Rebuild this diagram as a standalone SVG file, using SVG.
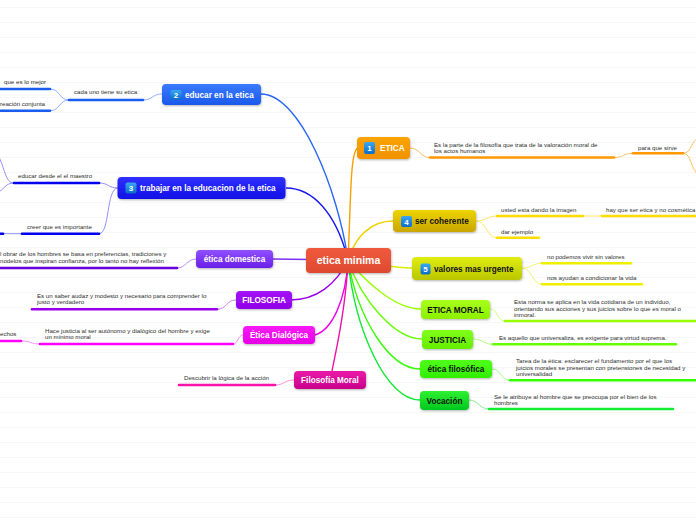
<svg xmlns="http://www.w3.org/2000/svg" width="696" height="520" viewBox="0 0 696 520">
<defs>
  <pattern id="bg" width="696" height="15" patternUnits="userSpaceOnUse">
    <rect width="696" height="15" fill="#ffffff"/>
    <line x1="0" y1="7.5" x2="696" y2="7.5" stroke="#f7f7f7" stroke-width="1"/>
  </pattern>
  <filter id="sh" x="-10%" y="-20%" width="120%" height="150%">
    <feDropShadow dx="0.5" dy="1" stdDeviation="0.8" flood-color="#000" flood-opacity="0.3"/>
  </filter>
  <linearGradient id="gIcon" x1="0" y1="0" x2="0" y2="1"><stop offset="0" stop-color="#3aa8f0"/><stop offset="1" stop-color="#0a6cc8"/></linearGradient>
  <linearGradient id="gCenter" x1="0" y1="0" x2="0" y2="1"><stop offset="0" stop-color="#f05a3e"/><stop offset="1" stop-color="#de4a30"/></linearGradient>
  <linearGradient id="gEtica" x1="0" y1="0" x2="0" y2="1"><stop offset="0" stop-color="#fba400"/><stop offset="1" stop-color="#f29200"/></linearGradient>
  <linearGradient id="gEdu" x1="0" y1="0" x2="0" y2="1"><stop offset="0" stop-color="#3a7bff"/><stop offset="1" stop-color="#1a58ea"/></linearGradient>
  <linearGradient id="gTrab" x1="0" y1="0" x2="0" y2="1"><stop offset="0" stop-color="#3030ff"/><stop offset="1" stop-color="#1010e6"/></linearGradient>
  <linearGradient id="gDom" x1="0" y1="0" x2="0" y2="1"><stop offset="0" stop-color="#9050ff"/><stop offset="1" stop-color="#6a1ee8"/></linearGradient>
  <linearGradient id="gFil" x1="0" y1="0" x2="0" y2="1"><stop offset="0" stop-color="#a414f8"/><stop offset="1" stop-color="#9000e8"/></linearGradient>
  <linearGradient id="gDia" x1="0" y1="0" x2="0" y2="1"><stop offset="0" stop-color="#f81af8"/><stop offset="1" stop-color="#e600e6"/></linearGradient>
  <linearGradient id="gMor" x1="0" y1="0" x2="0" y2="1"><stop offset="0" stop-color="#ea1aa8"/><stop offset="1" stop-color="#c8008c"/></linearGradient>
  <linearGradient id="gCoh" x1="0" y1="0" x2="0" y2="1"><stop offset="0" stop-color="#eed400"/><stop offset="1" stop-color="#c8a600"/></linearGradient>
  <linearGradient id="gVal" x1="0" y1="0" x2="0" y2="1"><stop offset="0" stop-color="#e0ee10"/><stop offset="1" stop-color="#bac600"/></linearGradient>
  <linearGradient id="gEM" x1="0" y1="0" x2="0" y2="1"><stop offset="0" stop-color="#a8ff1a"/><stop offset="1" stop-color="#8cf000"/></linearGradient>
  <linearGradient id="gJus" x1="0" y1="0" x2="0" y2="1"><stop offset="0" stop-color="#80ff1a"/><stop offset="1" stop-color="#66ee00"/></linearGradient>
  <linearGradient id="gEF" x1="0" y1="0" x2="0" y2="1"><stop offset="0" stop-color="#50ff1a"/><stop offset="1" stop-color="#30ee00"/></linearGradient>
  <linearGradient id="gVoc" x1="0" y1="0" x2="0" y2="1"><stop offset="0" stop-color="#30f030"/><stop offset="1" stop-color="#00c820"/></linearGradient>
</defs>
<style>
  .nt { font-family: "Liberation Sans", Arial, sans-serif; font-weight: bold; font-size: 8.2px; fill: #ffffff; }
  .nk { font-family: "Liberation Sans", Arial, sans-serif; font-weight: bold; font-size: 8.2px; fill: #111111; }
  .ct { font-family: "Liberation Sans", Arial, sans-serif; font-size: 6.15px; fill: #2e2e2e; }
  .it { font-family: "Liberation Sans", Arial, sans-serif; font-weight: bold; font-size: 8px; fill: #ffffff; }
  .box { filter: url(#sh); }
  .ul { fill: none; stroke-width: 2.6; stroke-linecap: round; }
  .cn { fill: none; stroke-width: 1.4; }
  .lc { fill: none; stroke-width: 1; }
</style>
<rect width="696" height="520" fill="url(#bg)"/>

<g id="connectors">
  <path class="cn" stroke="#f7a000" d="M348 260 C351 200 350 150 358 148"/>
  <path class="cn" stroke="#2a66f5" d="M348 260 C338 190 300 94 261 94"/>
  <path class="cn" stroke="#1818f0" d="M348 260 C336 212 312 188 286 188"/>
  <path class="cn" stroke="#7a30f0" d="M348 260 L273 259"/>
  <path class="cn" stroke="#9a00ee" d="M348 260 C336 285 316 300 290 300"/>
  <path class="cn" stroke="#ee00ee" d="M348 260 C346 300 332 330 315 335"/>
  <path class="cn" stroke="#ee10a8" d="M348 260 C346 310 336 350 332 371"/>
  <path class="cn" stroke="#f0d000" d="M348 260 C356 235 372 221 393 221"/>
  <path class="cn" stroke="#dcec00" d="M348 260 C370 262 390 268 412 268"/>
  <path class="cn" stroke="#99ff00" d="M348 260 C366 282 395 309 421 309"/>
  <path class="cn" stroke="#66ff00" d="M348 260 C361 300 395 339 422 339"/>
  <path class="cn" stroke="#33ff00" d="M348 260 C358 320 390 369 420 369"/>
  <path class="cn" stroke="#11e833" d="M348 260 C355 330 386 400 420 400"/>

  <path class="lc" stroke="#ffc060" d="M410 148 C420 148 420 157.5 430 157.5"/>
  <path class="lc" stroke="#ffc060" d="M614 157.5 C624 157.5 623 153.3 633 153.3"/>
  <path class="lc" stroke="#ffc060" d="M683 153.3 C692 153.3 690 141 700 137"/>
  <path class="lc" stroke="#ffc060" d="M683 153.3 C692 153.3 690 170 700 176"/>
  <path class="ul" stroke="#ff9900" d="M430 157.5 L614 157.5"/>
  <path class="ul" stroke="#ff9900" d="M633 153.3 L683 153.3"/>

  <path class="lc" stroke="#8cb0ff" d="M162 94 C152 94 153 100 143 100"/>
  <path class="lc" stroke="#8cb0ff" d="M69 100 C59 100 60 89 50 89"/>
  <path class="lc" stroke="#8cb0ff" d="M69 100 C59 100 60 110.7 50 110.7"/>
  <path class="ul" stroke="#1a5cf0" d="M69 100 L143 100"/>
  <path class="ul" stroke="#1a5cf0" d="M-2 89 L50 89"/>
  <path class="ul" stroke="#1a5cf0" d="M-2 110.7 L50 110.7"/>

  <path class="lc" stroke="#9090ff" d="M118 188 C108 188 109 183 99 183"/>
  <path class="lc" stroke="#9090ff" d="M118 188 C106 188 110 233.7 99 233.7"/>
  <path class="lc" stroke="#9090ff" d="M14 183 C5 183 5 168 -2 155"/>
  <path class="lc" stroke="#9090ff" d="M14 183 C5 183 4 190 -2 192"/>
  <path class="lc" stroke="#9090ff" d="M3 233.7 L22 233.7"/>
  <path class="ul" stroke="#0000ee" d="M14 183 L99 183"/>
  <path class="ul" stroke="#0000ee" d="M22 233.7 L99 233.7"/>
  <path class="ul" stroke="#0000ee" d="M-2 233.7 L3 233.7"/>

  <path class="lc" stroke="#b890ff" d="M196 259 C187 259 186 268 177 268"/>
  <path class="ul" stroke="#6a00dd" d="M-2 268 L177 268"/>

  <path class="lc" stroke="#cc80ff" d="M236 300 C226 300 227 309.3 217 309.3"/>
  <path class="ul" stroke="#9900ee" d="M32 309.3 L217 309.3"/>

  <path class="lc" stroke="#ff90ff" d="M243 335 C238 335 238 344 233 344"/>
  <path class="lc" stroke="#ff90ff" d="M40 344 C30 344 31 341 21 341"/>
  <path class="ul" stroke="#ff00ff" d="M40 344 L233 344"/>
  <path class="ul" stroke="#ff00ff" d="M-2 341 L21 341"/>

  <path class="lc" stroke="#ff90d8" d="M294 380 C284 380 285 385 275 385"/>
  <path class="ul" stroke="#ff11aa" d="M179 385 L275 385"/>

  <path class="lc" stroke="#ffe860" d="M476 221 C486 221 487 216 497 216"/>
  <path class="lc" stroke="#ffe860" d="M476 221 C486 221 487 237.7 497 237.7"/>
  <path class="lc" stroke="#ffe860" d="M583 216 L602 216"/>
  <path class="ul" stroke="#ffdd00" d="M497 216 L583 216"/>
  <path class="ul" stroke="#ffdd00" d="M602 216 L698 216"/>
  <path class="ul" stroke="#ffdd00" d="M497 237.7 L539 237.7"/>

  <path class="lc" stroke="#f0f870" d="M522 268 C532 268 532 263.3 542 263.3"/>
  <path class="lc" stroke="#f0f870" d="M522 268 C532 268 532 284.3 542 284.3"/>
  <path class="ul" stroke="#eef000" d="M542 263.3 L631 263.3"/>
  <path class="ul" stroke="#eef000" d="M542 284.3 L642 284.3"/>

  <path class="lc" stroke="#ccff80" d="M490 309 C498 309 497 321 505 321"/>
  <path class="ul" stroke="#99ff00" d="M505 321 L698 321"/>

  <path class="lc" stroke="#b0ff80" d="M473 339 C483 339 483 344.3 493 344.3"/>
  <path class="ul" stroke="#66ff00" d="M493 344.3 L676 344.3"/>

  <path class="lc" stroke="#99ff80" d="M492 369 C501 369 501 380.3 510 380.3"/>
  <path class="ul" stroke="#33ff00" d="M510 380.3 L698 380.3"/>

  <path class="lc" stroke="#80f090" d="M469 400 C479 400 479 409 489 409"/>
  <path class="ul" stroke="#11ee33" d="M489 409 L673 409"/>
</g>

<g id="center">
  <rect class="box" x="306" y="248" width="85" height="25" rx="4" fill="url(#gCenter)"/>
  <text x="348.5" y="264" text-anchor="middle" font-family="Liberation Sans, Arial, sans-serif" font-weight="bold" font-size="10.5" fill="#ffffff">etica minima</text>
</g>

<g id="n-etica">
  <rect class="box" x="357" y="137" width="53" height="22" rx="4" fill="url(#gEtica)"/>
  <rect x="364" y="142" width="11" height="12" rx="2" fill="url(#gIcon)"/>
  <text class="it" x="369.5" y="151" text-anchor="middle">1</text>
  <text class="nt" x="380" y="151">ETICA</text>
  <text class="ct" x="434" y="146.5">Es la parte de la filosofía que trata de la valoración moral de</text>
  <text class="ct" x="434" y="153">los actos humanos</text>
  <text class="ct" x="638" y="149.5">para que sirve</text>
</g>

<g id="n-educar">
  <rect class="box" x="162" y="84" width="99" height="21" rx="4" fill="url(#gEdu)"/>
  <rect x="170.5" y="90" width="11" height="10" rx="2" fill="url(#gIcon)"/>
  <text class="it" x="176" y="98" text-anchor="middle">2</text>
  <text class="nt" x="185" y="98">educar en la etica</text>
  <text class="ct" x="74" y="94">cada uno tiene su etica</text>
  <text class="ct" x="46" y="84" text-anchor="end">que es lo mejor</text>
  <text class="ct" x="45" y="105.5" text-anchor="end">reación conjunta</text>
</g>

<g id="n-trabajar">
  <rect class="box" x="117.5" y="177" width="168" height="22" rx="4" fill="url(#gTrab)"/>
  <rect x="125.5" y="182.5" width="11" height="11" rx="2" fill="url(#gIcon)"/>
  <text class="it" x="131" y="191" text-anchor="middle">3</text>
  <text class="nt" x="140" y="191">trabajar en la educacion de la etica</text>
  <text class="ct" x="18" y="177.5">educar desde el el maestro</text>
  <text class="ct" x="27" y="228.5">creer que es importante</text>
</g>

<g id="n-domestica">
  <rect class="box" x="196" y="250" width="77" height="18" rx="4" fill="url(#gDom)"/>
  <text class="nt" x="234.5" y="262" text-anchor="middle">ética domestica</text>
  <text class="ct" x="0" y="256">l obrar de los hombres se basa en preferencias, tradiciones y</text>
  <text class="ct" x="0" y="262.5">nodelos que inspiran confianza, por lo tanto no hay reflexión</text>
</g>

<g id="n-filosofia">
  <rect class="box" x="236" y="291" width="56" height="18" rx="4" fill="url(#gFil)"/>
  <text class="nt" x="264" y="303" text-anchor="middle">FILOSOFIA</text>
  <text class="ct" x="37" y="297.5">Es un saber audaz y modesto y necesario para comprender lo</text>
  <text class="ct" x="37" y="304">justo y verdadero</text>
</g>

<g id="n-dialogica">
  <rect class="box" x="243" y="326" width="72" height="18" rx="4" fill="url(#gDia)"/>
  <text class="nt" x="279" y="338" text-anchor="middle">Ética Dialógica</text>
  <text class="ct" x="45" y="332.5">Hace justicia al ser autónomo y dialógico del hombre y exige</text>
  <text class="ct" x="45" y="339">un mínimo moral</text>
  <text class="ct" x="0" y="336">echos</text>
</g>

<g id="n-moral">
  <rect class="box" x="294" y="371" width="72" height="18" rx="4" fill="url(#gMor)"/>
  <text class="nt" x="330" y="383" text-anchor="middle">Filosofía Moral</text>
  <text class="ct" x="184" y="380">Descubrir la lógica de la acción</text>
</g>

<g id="n-coherente">
  <rect class="box" x="393" y="210" width="83" height="22" rx="4" fill="url(#gCoh)"/>
  <rect x="401" y="216" width="11" height="11" rx="2" fill="url(#gIcon)"/>
  <text class="it" x="406.5" y="224.5" text-anchor="middle">4</text>
  <text class="nk" x="415" y="224">ser coherente</text>
  <text class="ct" x="501" y="212">usted esta dando la imagen</text>
  <text class="ct" x="606" y="212">hay que ser etica y no cosmética</text>
  <text class="ct" x="501" y="233.5">dar ejemplo</text>
</g>

<g id="n-valores">
  <rect class="box" x="412" y="257" width="110" height="23" rx="4" fill="url(#gVal)"/>
  <rect x="420.5" y="263.5" width="10" height="11" rx="2" fill="url(#gIcon)"/>
  <text class="it" x="425.5" y="272" text-anchor="middle">5</text>
  <text class="nk" x="434" y="271.5">valores mas urgente</text>
  <text class="ct" x="547" y="258.5">no podemos vivir sin valores</text>
  <text class="ct" x="547" y="280">nos ayudan a condicionar la vida</text>
</g>

<g id="n-eticamoral">
  <rect class="box" x="421" y="300" width="69" height="19" rx="4" fill="url(#gEM)"/>
  <text class="nk" x="455.5" y="312.5" text-anchor="middle">ETICA MORAL</text>
  <text class="ct" x="514" y="304">Esta norma se aplica en la vida cotidiana de un individuo,</text>
  <text class="ct" x="514" y="310.7">orientando sus acciones y sus juicios sobre lo que es moral o</text>
  <text class="ct" x="514" y="317.4">inmoral.</text>
</g>

<g id="n-justicia">
  <rect class="box" x="422" y="330" width="51" height="19" rx="4" fill="url(#gJus)"/>
  <text class="nk" x="447.5" y="342.5" text-anchor="middle">JUSTICIA</text>
  <text class="ct" x="499" y="340">Es aquello que universaliza, es exigente para virtud suprema.</text>
</g>

<g id="n-eticafilosofica">
  <rect class="box" x="420" y="360" width="72" height="18" rx="4" fill="url(#gEF)"/>
  <text class="nk" x="456" y="372" text-anchor="middle">ética filosófica</text>
  <text class="ct" x="516" y="363">Tarea de la ética: esclarecer el fundamento por el que los</text>
  <text class="ct" x="516" y="369.7">juicios morales se presentan con pretensiones de necesidad y</text>
  <text class="ct" x="516" y="376.4">universalidad</text>
</g>

<g id="n-vocacion">
  <rect class="box" x="420" y="391" width="49" height="19" rx="4" fill="url(#gVoc)"/>
  <text class="nk" x="444.5" y="403.5" text-anchor="middle">Vocación</text>
  <text class="ct" x="494" y="398.5">Se le atribuye al hombre que se preocupa por el bien de los</text>
  <text class="ct" x="494" y="405">hombres</text>
</g>
</svg>
